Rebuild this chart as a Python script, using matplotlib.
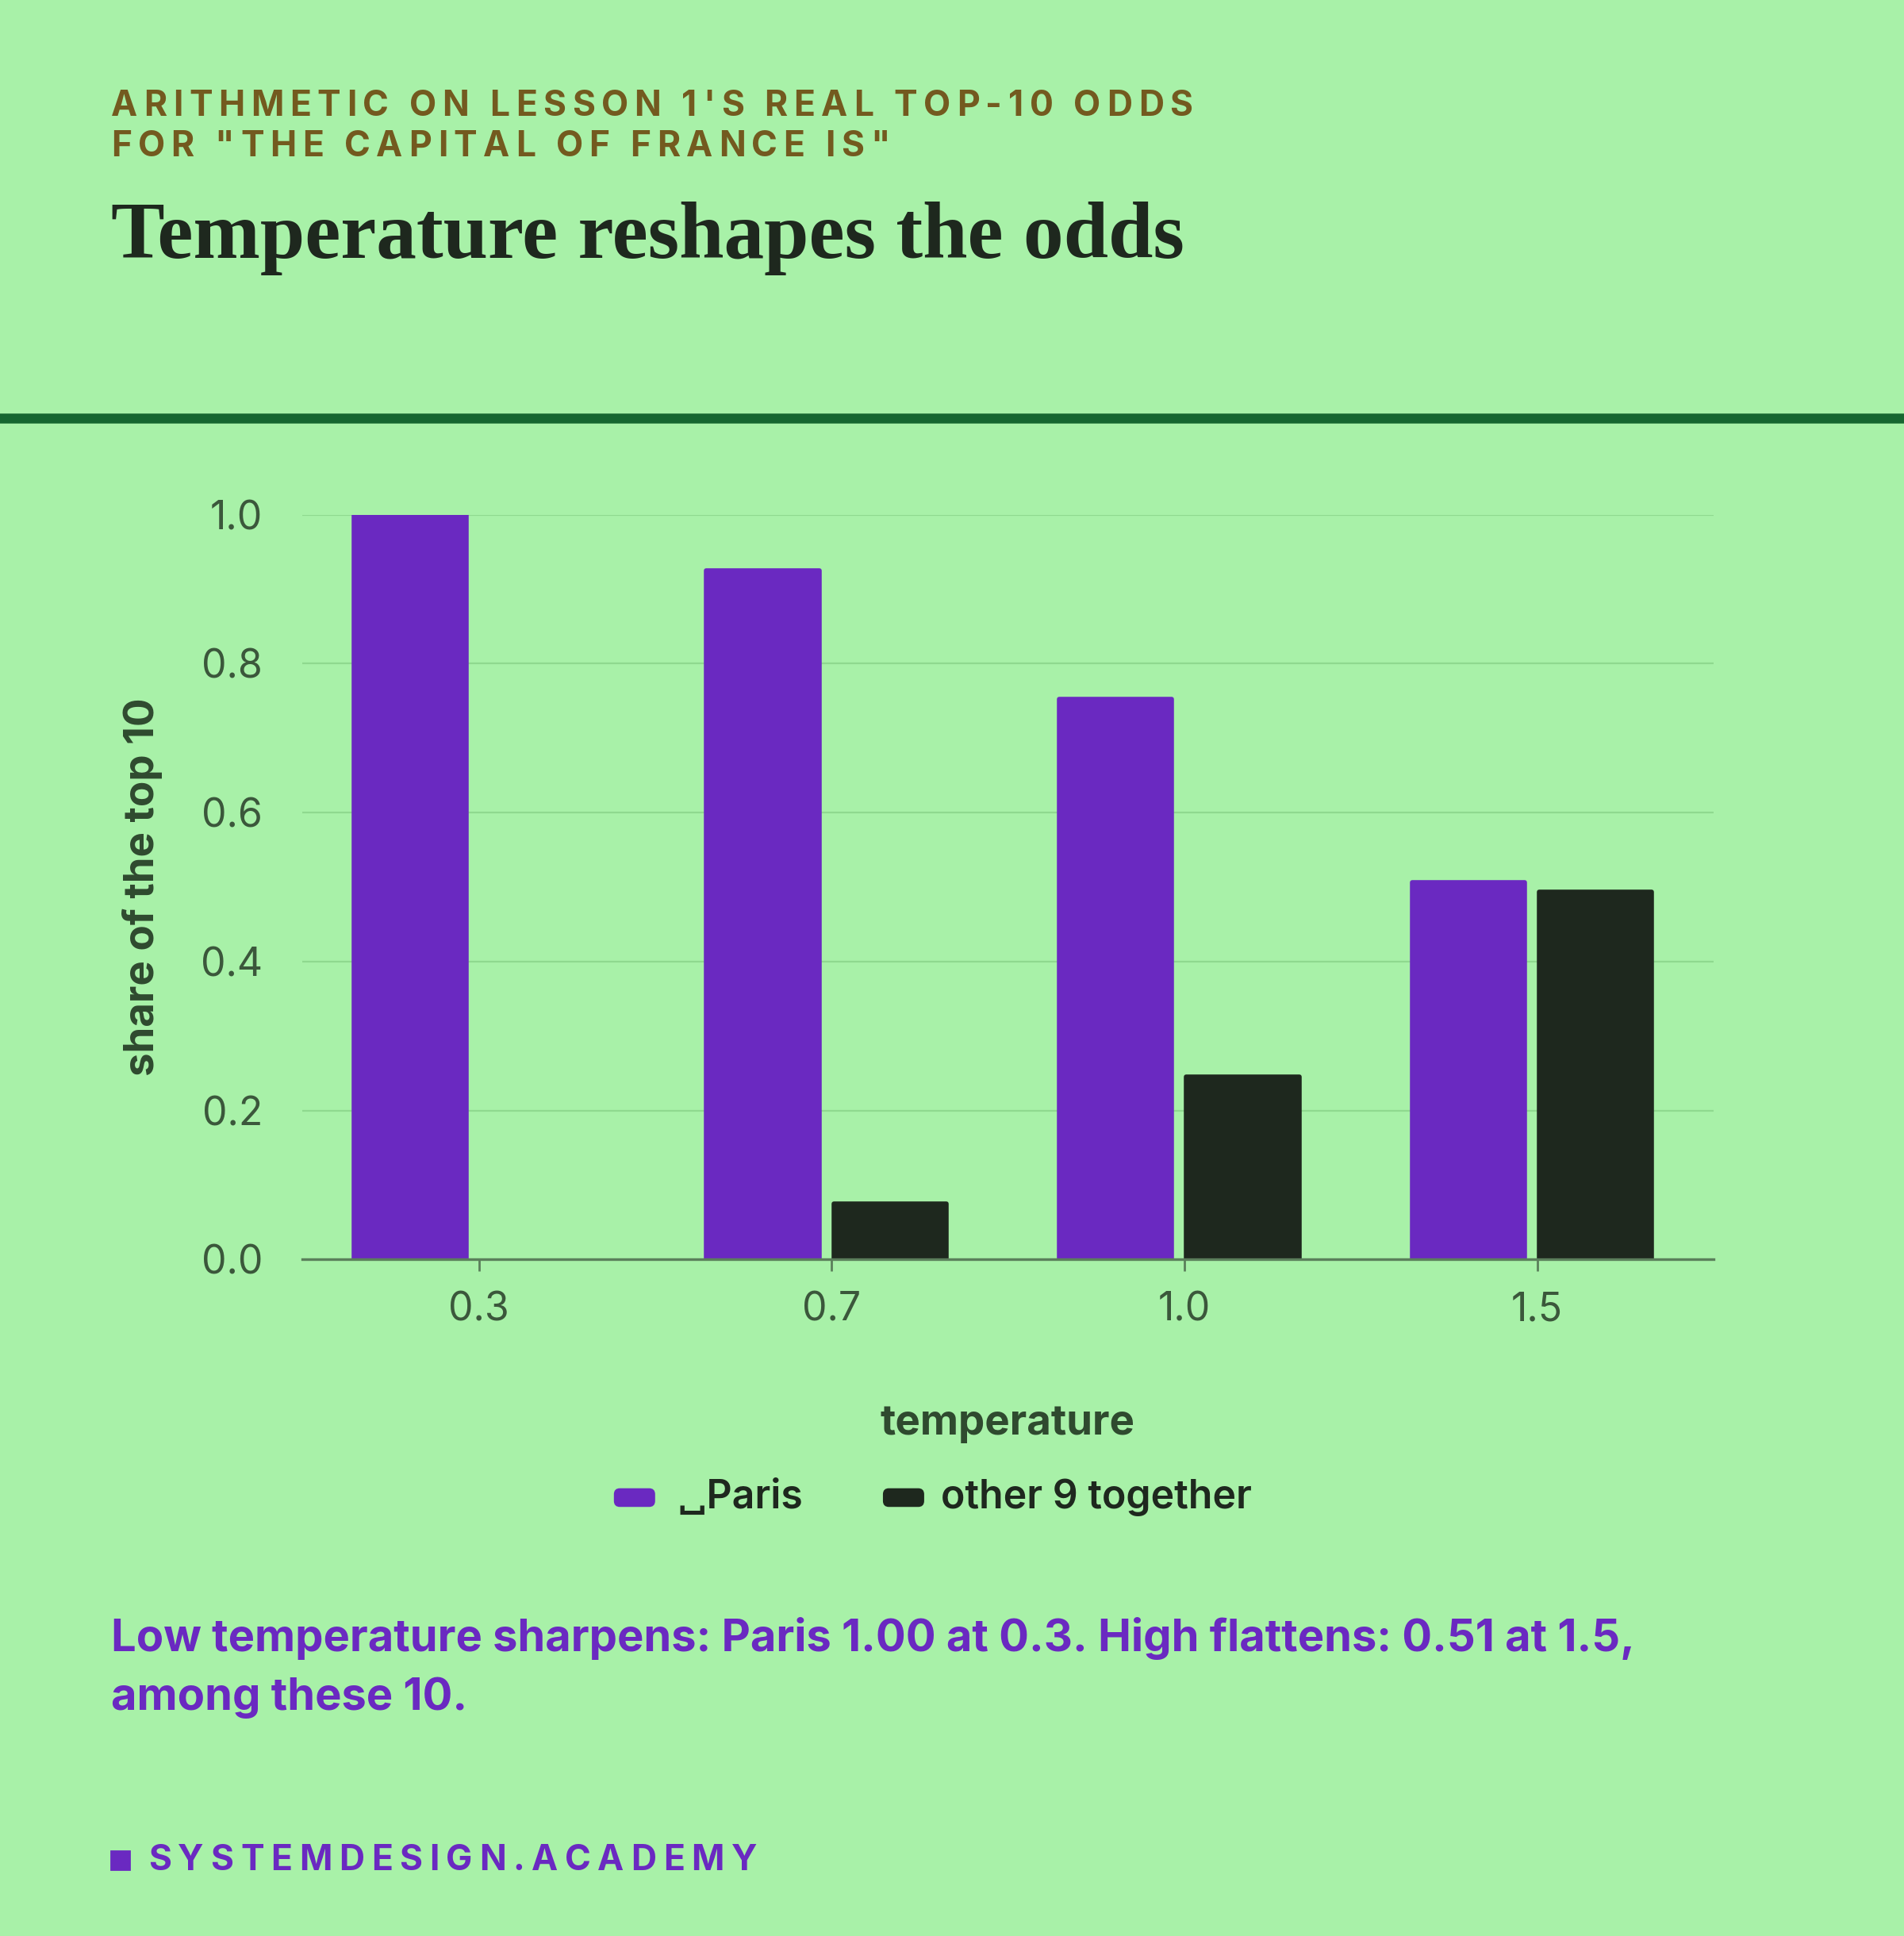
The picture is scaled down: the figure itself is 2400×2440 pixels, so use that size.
import matplotlib.pyplot as plt
import numpy as np
from matplotlib.patches import Rectangle, FancyBboxPatch

# data
temperatures = ["0.3", "0.7", "1.0", "1.5"]
paris_share = [1.00, 0.925, 0.753, 0.506]
other_share = [0.0, 0.075, 0.245, 0.494]
series_labels = ["\u2423Paris", "other 9 together"]

BG = "#a8f1a8"
PURPLE = "#6a29c1"
DARK = "#1e281e"
BROWN = "#735a1f"
RULE = "#166630"
AXIS_TXT = "#3b573b"

plt.rcParams['font.family'] = ['Inter', 'DejaVu Sans']

fig = plt.figure(figsize=(12, 12.2), dpi=200, facecolor=BG)
renderer = fig.canvas.get_renderer()
FIG_W = fig.get_figwidth() * fig.dpi


def char_widths(s, **kw):
    widths = []
    for ch in s:
        if ch == " ":
            t = fig.text(0, 0, "I I", **kw)
            t2 = fig.text(0, 0, "II", **kw)
            w = t.get_window_extent(renderer).width - t2.get_window_extent(renderer).width
            t.remove()
            t2.remove()
        else:
            t = fig.text(0, 0, ch, **kw)
            w = t.get_window_extent(renderer).width
            t.remove()
        widths.append(w)
    return widths


def tracked(x, y, s, track_px, **kw):
    # letter-spaced text, one glyph at a time
    for ch, w in zip(s, char_widths(s, **kw)):
        if ch != " ":
            fig.text(x, y, ch, ha='left', va='center', **kw)
        x += (w + track_px) / FIG_W


def tracking_for(s, width_frac, **kw):
    ws = char_widths(s, **kw)
    return (width_frac * FIG_W - sum(ws)) / (len(s) - 1)


# header
sub_kw = dict(color=BROWN, fontsize=16, fontweight='bold')
line1 = "ARITHMETIC ON LESSON 1'S REAL TOP-10 ODDS"
line2 = 'FOR "THE CAPITAL OF FRANCE IS"'
trk = tracking_for(line1, 0.568, **sub_kw)
tracked(0.0584, 0.945, line1, trk, **sub_kw)
tracked(0.0584, 0.924, line2, trk, **sub_kw)

fig.text(0.0584, 0.877, "Temperature reshapes the odds", color=DARK,
         fontsize=36.5, fontweight='bold', family=['Liberation Serif'],
         va='center', ha='left')
fig.add_artist(plt.Line2D([0, 1], [0.784, 0.784], color=RULE, lw=4.5,
                          transform=fig.transFigure))

# chart
ax = fig.add_axes([0.1589, 0.3495, 0.7411, 0.3846])
ax.set_facecolor(BG)
x = np.arange(len(temperatures))
w = 0.32
ax.bar(x - 0.195, paris_share, width=w, color=PURPLE, edgecolor=PURPLE,
       linewidth=[2 if v > 0 else 0 for v in paris_share],
       joinstyle='round', zorder=3)
ax.bar(x + 0.165, other_share, width=w, color=DARK, edgecolor=DARK,
       linewidth=[2 if v > 0 else 0 for v in other_share],
       joinstyle='round', zorder=3)

ax.set_xlim(-0.5, 3.5)
ax.set_ylim(0, 1.0)
ax.set_xticks(x)
ax.set_xticklabels(temperatures)
ax.set_yticks(np.arange(0, 1.01, 0.2))
ax.set_yticklabels([f"{v:.1f}" for v in np.arange(0, 1.01, 0.2)])
ax.tick_params(axis='x', length=5.5, width=1, color="#5b7f5b", pad=9,
               labelsize=18, labelcolor=AXIS_TXT)
ax.tick_params(axis='y', length=0, pad=18, labelsize=18, labelcolor=AXIS_TXT)
ax.grid(axis='y', color="#8fd98f", lw=0.8, zorder=0)
ax.set_axisbelow(True)
for side in ['top', 'right', 'left']:
    ax.spines[side].set_visible(False)
ax.spines['bottom'].set_color("#5b7f5b")
ax.spines['bottom'].set_linewidth(1.2)
ax.spines['bottom'].set_zorder(4)

fig.text(0.0746, 0.5418, "share of the top 10", rotation=90, color="#2f4a2f",
         fontsize=19, fontweight='bold', va='center', ha='center')
fig.text(0.529, 0.2647, "temperature", color="#2f4a2f", fontsize=19,
         fontweight='bold', va='center', ha='center')

# legend, laid out by hand like the reference
for px, tx, col, lab in [(0.323, 0.3554, PURPLE, series_labels[0]),
                         (0.4643, 0.494, DARK, series_labels[1])]:
    fig.add_artist(FancyBboxPatch((px, 0.2222), 0.0205, 0.0085,
                                  boxstyle="round,pad=0,rounding_size=0.0025",
                                  transform=fig.transFigure, color=col))
    fig.text(tx, 0.2264, lab, color=DARK, fontsize=18, fontweight='semibold',
             va='center', ha='left')

# takeaway
fig.text(0.0584, 0.1537,
         "Low temperature sharpens: Paris 1.00 at 0.3. High flattens: 0.51 at 1.5,",
         color=PURPLE, fontsize=20.2, fontweight='bold', va='center', ha='left')
fig.text(0.0584, 0.1231, "among these 10.", color=PURPLE, fontsize=20.2,
         fontweight='bold', va='center', ha='left')

# footer
fig.add_artist(Rectangle((0.0584, 0.0343), 0.0097, 0.0095,
                         transform=fig.transFigure, color=PURPLE))
foot_kw = dict(color=PURPLE, fontsize=16, fontweight='bold')
foot = "SYSTEMDESIGN.ACADEMY"
tracked(0.0778, 0.0389, foot, tracking_for(foot, 0.3197, **foot_kw), **foot_kw)

fig.savefig("out.png", dpi=200, facecolor=BG)
